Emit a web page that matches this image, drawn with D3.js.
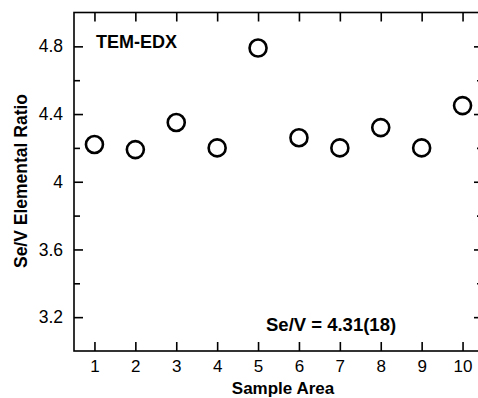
<!DOCTYPE html>
<html><head><meta charset="utf-8">
<script src="https://cdn.jsdelivr.net/npm/d3@7"></script>
<style>
html,body{margin:0;padding:0;background:#fff;overflow:hidden;}
text{font-family:Arial,"Liberation Sans",sans-serif;fill:#000;}
</style></head>
<body><svg id="c" width="478" height="398"></svg>
<script>
const sampleAreas = [1,2,3,4,5,6,7,8,9,10];
const seVRatio = [4.22,4.19,4.35,4.20,4.79,4.26,4.20,4.32,4.20,4.45];
const yMajorTicks = [3.2,3.6,4.0,4.4,4.8];
const yMinorTicks = [3.4,3.8,4.2,4.6];
const yTickLabels = ["3.2","3.6","4","4.4","4.8"];
const panelLabel = "TEM-EDX";
const summaryLabel = "Se/V = 4.31(18)";

const svg = d3.select("#c");
const L=74, R=483, T=12.5, B=351;
const x = d3.scaleLinear().domain([0.5,10.5]).range([L,R]);
const y = d3.scaleLinear().domain([3.0,5.0]).range([B,T]);

svg.append("rect").attr("x",L).attr("y",T).attr("width",R-L).attr("height",B-T)
  .attr("fill","none").attr("stroke","#000").attr("stroke-width",1.6);

const xb = svg.append("g").attr("transform",`translate(0,${B})`)
  .call(d3.axisBottom(x).tickValues(sampleAreas).tickSizeInner(-9).tickSizeOuter(0).tickPadding(9).tickFormat(d3.format("d")));
xb.select(".domain").remove();
xb.selectAll("line").attr("stroke-width",1.6);
xb.selectAll("text").style("font-size","17px");
const xt = svg.append("g").attr("transform",`translate(0,${T})`)
  .call(d3.axisTop(x).tickValues(sampleAreas).tickSizeInner(-9).tickSizeOuter(0).tickFormat(""));
xt.select(".domain").remove();
xt.selectAll("line").attr("stroke-width",1.6);

const yl = svg.append("g").attr("transform",`translate(${L},0)`)
  .call(d3.axisLeft(y).tickValues(yMajorTicks).tickSizeInner(-9).tickSizeOuter(0).tickPadding(11)
    .tickFormat((d,i)=>yTickLabels[i]));
yl.select(".domain").remove();
yl.selectAll("line").attr("stroke-width",1.6);
yl.selectAll("text").style("font-size","17.5px");
const ylm = svg.append("g").attr("transform",`translate(${L},0)`)
  .call(d3.axisLeft(y).tickValues(yMinorTicks).tickSizeInner(-6).tickSizeOuter(0).tickFormat(""));
ylm.select(".domain").remove();
ylm.selectAll("line").attr("stroke-width",1.6);
const yr = svg.append("g").attr("transform",`translate(${R},0)`)
  .call(d3.axisRight(y).tickValues(yMajorTicks).tickSizeInner(-9).tickSizeOuter(0).tickFormat(""));
yr.select(".domain").remove();
yr.selectAll("line").attr("stroke-width",1.6);
const yrm = svg.append("g").attr("transform",`translate(${R},0)`)
  .call(d3.axisRight(y).tickValues(yMinorTicks).tickSizeInner(-6).tickSizeOuter(0).tickFormat(""));
yrm.select(".domain").remove();
yrm.selectAll("line").attr("stroke-width",1.6);

svg.append("g").selectAll("circle").data(sampleAreas).join("circle")
  .attr("cx",d=>x(d)).attr("cy",(d,i)=>y(seVRatio[i])).attr("r",8.5)
  .attr("fill","none").attr("stroke","#000").attr("stroke-width",2.6);

svg.append("text").attr("x",96).attr("y",48).style("font-size","18px").style("font-weight","bold").text(panelLabel);
svg.append("text").attr("x",266).attr("y",331).style("font-size","18.5px").style("font-weight","bold").text(summaryLabel);
svg.append("text").attr("x",283).attr("y",393.5).attr("text-anchor","middle").style("font-size","17px").style("font-weight","bold").text("Sample Area");
svg.append("text").attr("transform","translate(27,181) rotate(-90)").attr("text-anchor","middle")
  .style("font-size","17.5px").style("font-weight","bold").text("Se/V Elemental Ratio");
</script></body></html>
